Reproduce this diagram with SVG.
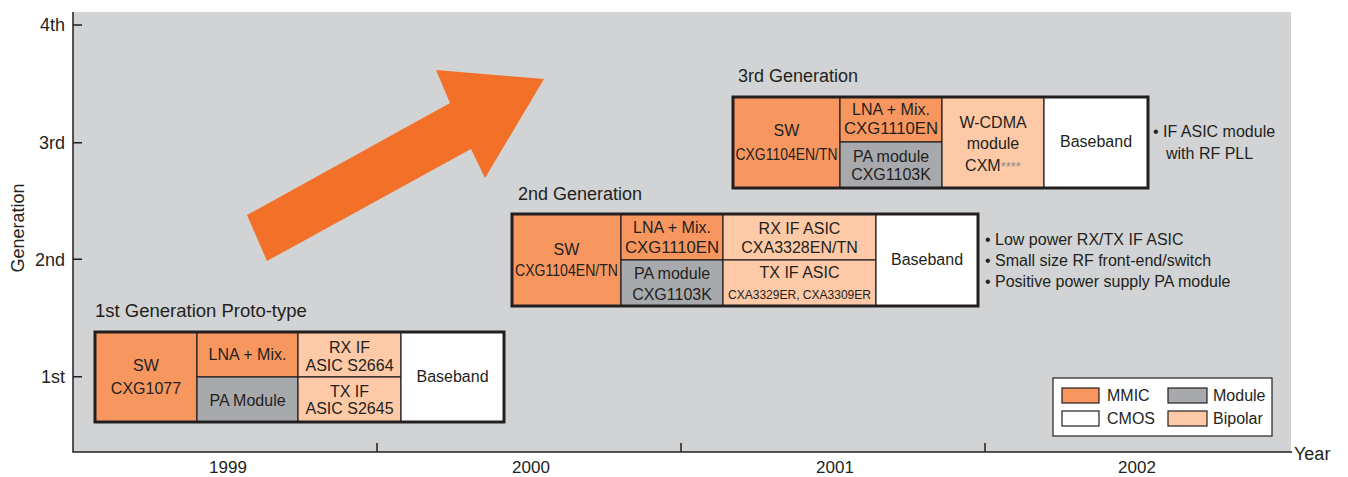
<svg xmlns="http://www.w3.org/2000/svg" width="1348" height="477" viewBox="0 0 1348 477">
<style>
text{font-family:"Liberation Sans",Arial,sans-serif;fill:#231f20}
.ax{font-size:18px}
.yr{font-size:17px;text-anchor:middle}
.t{font-size:18px}
.c{font-size:16px;text-anchor:middle}
.b{font-size:16px}
.lg{font-size:16px}
.mmic{fill:#f7975f}
.mod{fill:#a7a9ac}
.bip{fill:#fdc9a6}
.cmos{fill:#ffffff}
.cell{stroke:#231f20;stroke-width:1.2}
.outer{fill:none;stroke:#231f20;stroke-width:3}
.axis{stroke:#231f20;stroke-width:1.5;fill:none}
</style>
<rect x="0" y="0" width="1348" height="477" fill="#ffffff"/>
<rect x="73" y="12" width="1218" height="440" fill="#d1d3d4"/>
<g id="axes">
<path class="axis" d="M73,12 V452 H1292"/>
<path class="axis" d="M73,25 H82 M73,142.7 H82 M73,259.3 H82 M73,376.7 H82"/>
<path class="axis" d="M377,443 V452 M681,443 V452 M985,443 V452" stroke-width="1"/>
<text class="ax" x="65" y="31" text-anchor="end">4th</text>
<text class="ax" x="65" y="149" text-anchor="end">3rd</text>
<text class="ax" x="65" y="265.5" text-anchor="end">2nd</text>
<text class="ax" x="65" y="383" text-anchor="end">1st</text>
<text class="ax" transform="translate(24,228) rotate(-90)" text-anchor="middle">Generation</text>
<text class="yr" x="228" y="473">1999</text>
<text class="yr" x="531" y="473">2000</text>
<text class="yr" x="835" y="473">2001</text>
<text class="yr" x="1137" y="473">2002</text>
<text class="ax" x="1294" y="460">Year</text>
</g>
<g id="trend-arrow">
<polygon points="247,215 450,103 436,70 544,79 485,178 471,149 267,261" fill="#f37029"/>
</g>
<g id="gen1">
<text class="t" x="95" y="317" style="font-size:18.5px">1st Generation Proto-type</text>
<rect class="cell mmic" x="95" y="332" width="102" height="90"/>
<rect class="cell mmic" x="197" y="332" width="101" height="45"/>
<rect class="cell mod" x="197" y="377" width="101" height="45"/>
<rect class="cell bip" x="298" y="332" width="103" height="45"/>
<rect class="cell bip" x="298" y="377" width="103" height="45"/>
<rect class="cell cmos" x="401" y="332" width="103" height="90"/>
<rect class="outer" x="95" y="332" width="409" height="90"/>
<text class="c" x="146" y="371">SW</text>
<text class="c" x="146" y="394">CXG1077</text>
<text class="c" x="247.5" y="360">LNA + Mix.</text>
<text class="c" x="247.5" y="406">PA Module</text>
<text class="c" x="349.5" y="353">RX IF</text>
<text class="c" x="349.5" y="370.5">ASIC S2664</text>
<text class="c" x="349.5" y="397">TX IF</text>
<text class="c" x="349.5" y="414">ASIC S2645</text>
<text class="c" x="452.5" y="382">Baseband</text>
</g>
<g id="gen2">
<text class="t" x="518" y="200">2nd Generation</text>
<rect class="cell mmic" x="512" y="214" width="109" height="92"/>
<rect class="cell mmic" x="621" y="214" width="102" height="46"/>
<rect class="cell mod" x="621" y="260" width="102" height="46"/>
<rect class="cell bip" x="723" y="214" width="153" height="46"/>
<rect class="cell bip" x="723" y="260" width="153" height="46"/>
<rect class="cell cmos" x="876" y="214" width="102" height="92"/>
<rect class="outer" x="512" y="214" width="466" height="92"/>
<text class="c" x="566.5" y="255">SW</text>
<text class="c" x="566.5" y="276" textLength="103" lengthAdjust="spacingAndGlyphs">CXG1104EN/TN</text>
<text class="c" x="672" y="233">LNA + Mix.</text>
<text class="c" x="672" y="253" textLength="94" lengthAdjust="spacingAndGlyphs">CXG1110EN</text>
<text class="c" x="672" y="279">PA module</text>
<text class="c" x="672" y="300">CXG1103K</text>
<text class="c" x="799.5" y="234">RX IF ASIC</text>
<text class="c" x="799.5" y="253">CXA3328EN/TN</text>
<text class="c" x="799.5" y="278">TX IF ASIC</text>
<text class="c" x="799.5" y="299" style="font-size:13.5px" textLength="143" lengthAdjust="spacingAndGlyphs">CXA3329ER, CXA3309ER</text>
<text class="c" x="927" y="265">Baseband</text>
<text class="b" x="985" y="245">• Low power RX/TX IF ASIC</text>
<text class="b" x="985" y="266">• Small size RF front-end/switch</text>
<text class="b" x="985" y="287">• Positive power supply PA module</text>
</g>
<g id="gen3">
<text class="t" x="738" y="82">3rd Generation</text>
<rect class="cell mmic" x="733" y="97" width="107" height="91"/>
<rect class="cell mmic" x="840" y="97" width="102" height="45"/>
<rect class="cell mod" x="840" y="142" width="102" height="46"/>
<rect class="cell bip" x="942" y="97" width="102" height="91"/>
<rect class="cell cmos" x="1044" y="97" width="104" height="91"/>
<rect class="outer" x="733" y="97" width="415" height="91"/>
<text class="c" x="786.5" y="136">SW</text>
<text class="c" x="786.5" y="160" textLength="102" lengthAdjust="spacingAndGlyphs">CXG1104EN/TN</text>
<text class="c" x="891" y="115">LNA + Mix.</text>
<text class="c" x="891" y="134" textLength="94" lengthAdjust="spacingAndGlyphs">CXG1110EN</text>
<text class="c" x="891" y="162">PA module</text>
<text class="c" x="891" y="180">CXG1103K</text>
<text class="c" x="993" y="128">W-CDMA</text>
<text class="c" x="993" y="149">module</text>
<text class="c" x="993" y="171">CXM<tspan style="font-size:13px;fill:#8a8c8e">****</tspan></text>
<text class="c" x="1096" y="147">Baseband</text>
<text class="b" x="1153" y="137">• IF ASIC module</text>
<text class="b" x="1166" y="159">with RF PLL</text>
</g>
<g id="legend">
<rect x="1053" y="378" width="219" height="58" fill="#ffffff" stroke="#231f20" stroke-width="1.2"/>
<rect class="cell mmic" x="1062" y="388" width="37" height="15" stroke-width="1"/>
<rect class="cell cmos" x="1062" y="411" width="37" height="15" stroke-width="1"/>
<rect class="cell mod" x="1168" y="388" width="39" height="15" stroke-width="1"/>
<rect class="cell bip" x="1168" y="411" width="39" height="15" stroke-width="1"/>
<text class="lg" x="1107" y="401">MMIC</text>
<text class="lg" x="1107" y="424">CMOS</text>
<text class="lg" x="1213" y="401">Module</text>
<text class="lg" x="1213" y="424">Bipolar</text>
</g>
</svg>
